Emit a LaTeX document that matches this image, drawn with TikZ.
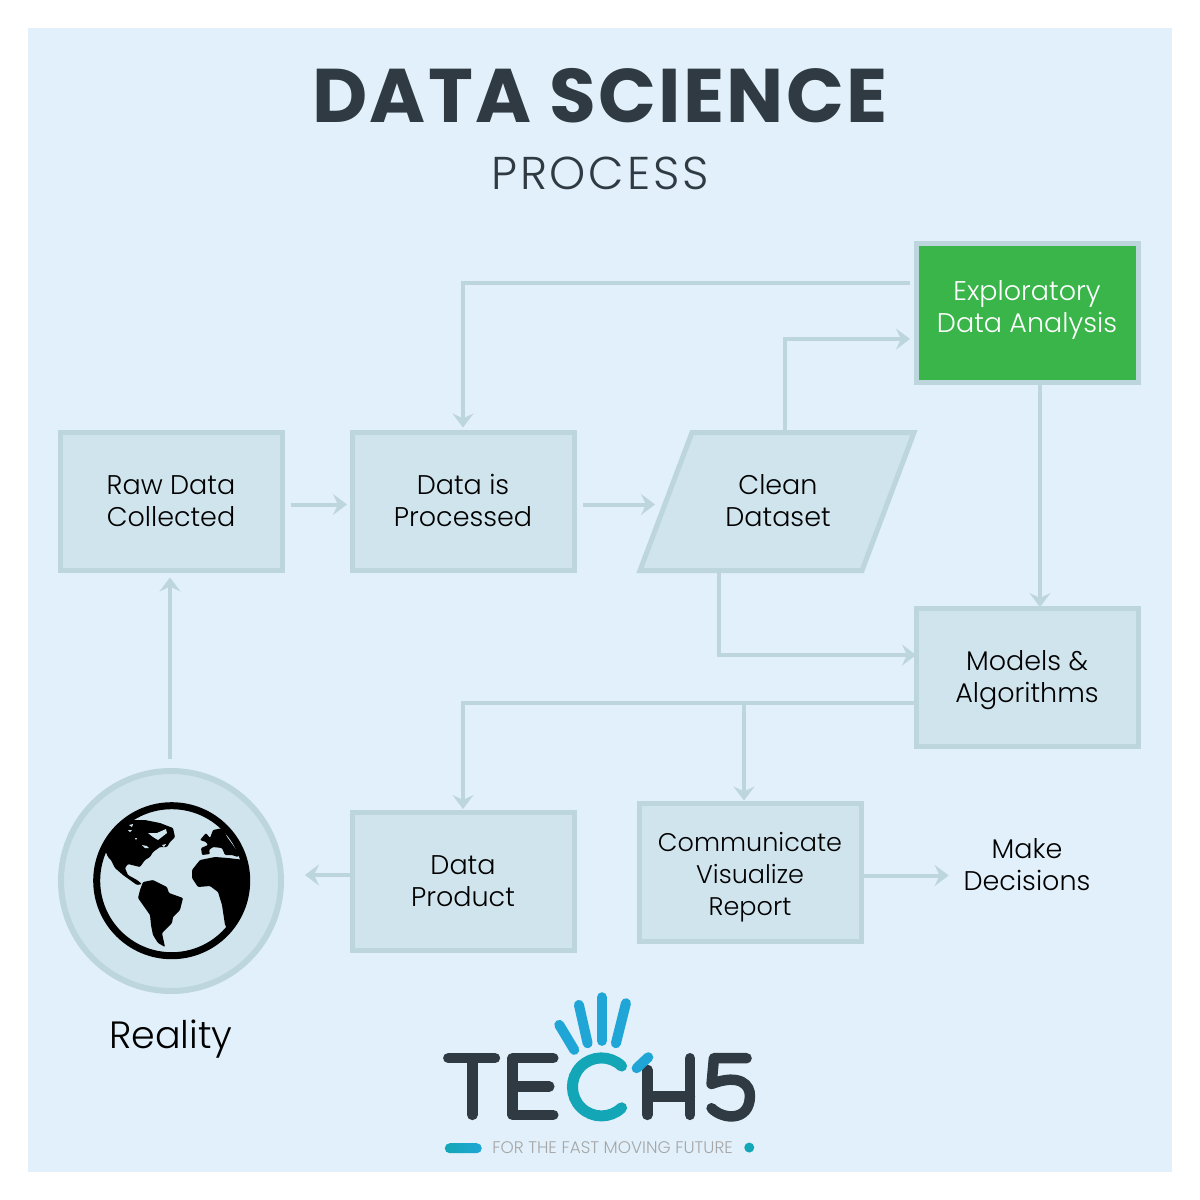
\documentclass[tikz,border=0pt]{standalone}
\usepackage{fontspec}
\setmainfont{Poppins}
\newfontfamily\thinfont{Poppins Light}
\usetikzlibrary{arrows.meta}
\definecolor{panel}{HTML}{E1F0FA}
\definecolor{boxfill}{HTML}{D0E4ED}
\definecolor{boxline}{HTML}{BDD5DC}
\definecolor{inkdark}{HTML}{2F3A42}
\definecolor{tealc}{HTML}{12A6B6}
\definecolor{bluec}{HTML}{1FA6D6}
\definecolor{edagreen}{HTML}{3AB54A}
\begin{document}
\begin{tikzpicture}[x=1pt,y=-1pt,
  every node/.style={font=\thinfont\fontsize{27}{32}\selectfont,text=black,align=center,inner sep=0pt,outer sep=0pt},
  box/.style={draw=boxline,fill=boxfill,line width=5pt,minimum width=222pt,minimum height=138pt},
  flow/.style={draw=boxline,line width=4pt,-{Stealth[length=14pt,width=21pt,inset=5pt]}},
  stem/.style={draw=inkdark,line width=10.5pt,line cap=round,line join=round},
  finger/.style={draw=bluec,line width=10pt,line cap=round},
  land/.style={fill=black,rounded corners=1pt}]
\useasboundingbox (0,0) rectangle (1200,1200);
\fill[white] (0,0) rectangle (1200,1200);
\fill[panel] (28,28) rectangle (1172,1172);
\node[font=\bfseries\fontsize{76}{80}\selectfont\addfontfeature{LetterSpace=3},text=inkdark] (title) at (600,96) {DATA SCIENCE};
\node[font=\thinfont\fontsize{46}{50}\selectfont\addfontfeature{LetterSpace=6},text=inkdark] (subtitle) at (600,173) {PROCESS};
% process boxes
\node[box] (raw) at (171,501.5) {Raw Data\\Collected};
\node[box,label={[yshift=1.5pt]center:{Data is\\Processed}}] (proc) at (463,501.5) {};
\draw[box] (692,432.5) -- (914,432.5) -- (862,570.5) -- (640,570.5) -- cycle;
\node[minimum width=274pt,minimum height=138pt] (clean) at (778,500.5) {Clean\\Dataset};
\node[box,fill=edagreen,minimum height=139pt,label={[yshift=3pt,text=white]center:{Exploratory\\Data Analysis}}] (eda) at (1027,313) {};
\node[box,label={[yshift=-3pt]center:{Models \&\\Algorithms}}] (models) at (1027,677) {};
\node[box] (product) at (463,881) {Data\\Product};
\node[box,label={[yshift=-5pt,font=\thinfont\fontsize{25.5}{32}\selectfont]center:{Communicate\\Visualize\\Report}}] (comm) at (750,872.5) {};
\node (decide) at (1027,865) {Make\\Decisions};
\node[circle,draw=boxline,fill=boxfill,line width=6pt,minimum size=220pt] (world) at (171,881) {};
\node[font=\thinfont\fontsize{38}{42}\selectfont] (reality) at (171,1039) {Reality};
% connectors
\draw[flow] ([xshift=-6pt,yshift=30pt]eda.west) -| ([yshift=5pt]proc.north);
\draw[flow] ([xshift=7pt]clean.north) |- ([xshift=-6pt,yshift=-26pt]eda.west);
\draw[flow] ([xshift=-59pt]clean.south) |- ([yshift=22pt]models.west);
\draw[flow] ([xshift=13pt]eda.south) -- ([xshift=13pt,yshift=1pt]models.north);
\draw[flow] ([yshift=-26pt]models.west) -| ([yshift=3pt]product.north);
\draw[flow] ([xshift=-6pt,yshift=-26pt]models.west -| comm.north) -- ([xshift=-6pt,yshift=3pt]comm.north);
\draw[flow] ([xshift=9pt,yshift=-3pt]raw.east) -- ([xshift=-5pt,yshift=-3pt]proc.west);
\draw[flow] ([xshift=9pt,yshift=-3pt]proc.east) -- ([xshift=14pt,yshift=-3pt]proc.east -| clean.west);
\draw[flow] ([yshift=-3pt]comm.east) -- ([xshift=-15pt,yshift=-3pt]comm.east -| decide.west);
\draw[flow] ([yshift=6pt]product.west) -- ([xshift=24pt,yshift=6pt]product.west -| world.east);
\draw[flow] ([xshift=-1pt,yshift=12pt]world.north) -- ([xshift=-1pt,yshift=-7pt]raw.south);
% globe
\begin{scope}
\clip (171.7,880.7) circle (77);
\fill[land] (133,820) -- (145,820) -- (160,823) -- (173,828) -- (175,837) -- (170,842) -- (167,847) -- (160,847) -- (153,852) -- (150,857) -- (145,860) -- (140,867) -- (128,864) -- (125,868) -- (128,875) -- (137,880) -- (142,884) -- (137,885) -- (123,875) -- (115,868) -- (111,860) -- (108,857) -- (105,850) -- (95,855) -- (100,820) -- (125,808) -- cycle;
\fill[boxfill] (148,833) -- (157,833) -- (166,829) -- (167,833) -- (158,840) -- (153,837) -- cycle;
\fill[boxfill] (129,825) -- (133,824) -- (132,827) -- cycle (128,830) -- (132,830) -- (130,832) -- cycle (135,838) -- (137,838) -- (136,840) -- cycle;
\fill[boxfill] (142,845) -- (147,846) -- (149,848) -- (145,848) -- cycle (162,845) -- (166,844) -- (164,847) -- cycle;
\fill[land] (143,882) -- (153,880) -- (167,887) -- (169,893) -- (183,898) -- (180,910) -- (173,917) -- (172,923) -- (162,933) -- (165,947) -- (158,943) -- (153,935) -- (151,925) -- (150,915) -- (138,898) -- (140,890) -- cycle;
\fill[land] (200,840) -- (206,833) -- (210,838) -- (213,830) -- (223,828) -- (227,837) -- (235,848) -- (240,853) -- (238,857) -- (232,855) -- (225,855) -- (222,848) -- (213,847) -- (209,850) -- (210,854) -- (202,855) -- (201,848) -- (208,845) -- (206,842) -- cycle;
\fill[land] (200,860) -- (215,857) -- (228,858) -- (245,860) -- (252,885) -- (245,915) -- (227,928) -- (225,925) -- (222,905) -- (218,892) -- (210,886) -- (198,887) -- (192,878) -- (192,870) -- cycle;
\end{scope}
\draw[black,line width=7pt] (171.7,880.7) circle (75);
% logo
\begin{scope}[x=0.3333pt,y=-0.3333pt,shift={(1290,2940)}]
\draw[stem] (55,235) -- (195,235) (127,235) -- (127,405);
\draw[stem] (370,235) -- (248,235) -- (248,405) -- (370,405) (248,320) -- (358,320);
\draw[stem] (652,270) -- (652,405) (780,235) -- (780,405) (652,350) -- (780,350);
\draw[stem] (950,235) -- (852,235) -- (845,312) .. controls (930,280) and (962,315) .. (960,350) .. controls (958,425) and (880,420) .. (845,385);
\draw[draw=tealc,line width=11pt,line cap=round] (575,258.5) arc[start angle=-46,end angle=-314,radius=87];
\draw[finger] (620,265) -- (655,232);
\draw[finger] (388,135) -- (433,210);
\draw[finger] (447,75) -- (473,190);
\draw[finger] (516,52) -- (516,183);
\draw[finger] (588,70) -- (558,190);
\node[left color=tealc,right color=bluec,rounded corners=5pt,minimum width=37pt,minimum height=10pt] (bar) at (100,505) {};
\node[circle,fill=tealc,minimum size=10pt] (dot) at (958,503) {};
\node[font=\thinfont\fontsize{16.8}{18}\selectfont,text=gray!70] (tagline) at (548,503) {FOR THE FAST MOVING FUTURE};
\end{scope}
\end{tikzpicture}
\end{document}
